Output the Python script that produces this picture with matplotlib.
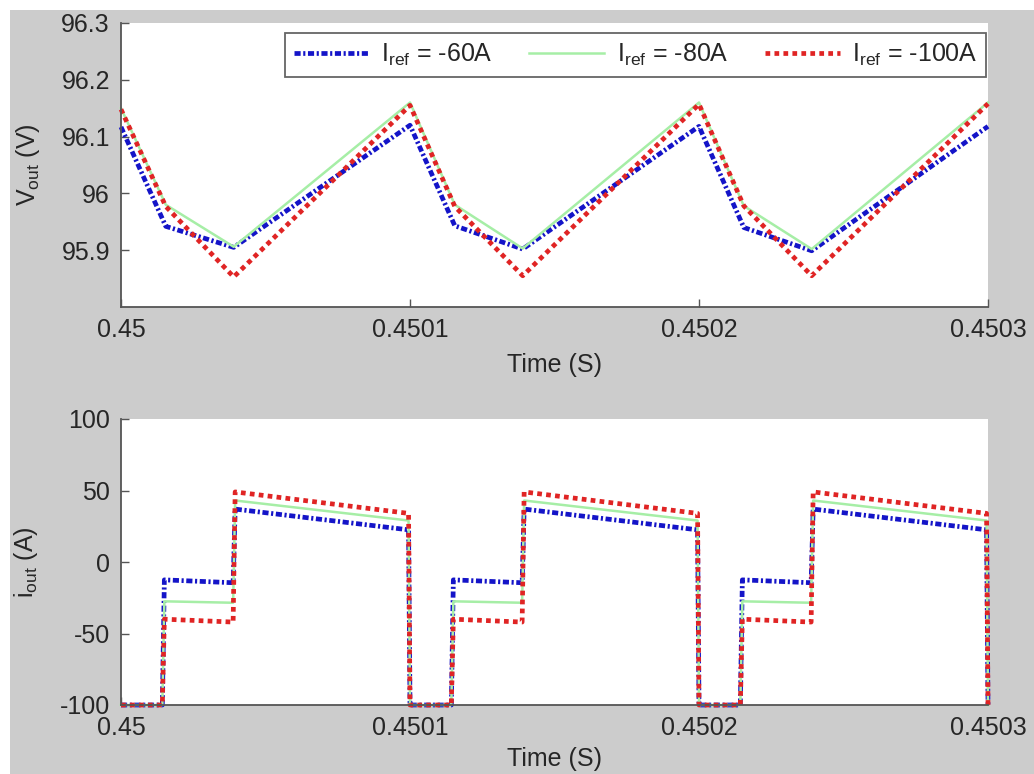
import matplotlib
matplotlib.use("Agg")
import matplotlib.pyplot as plt
from matplotlib.patches import Rectangle

plt.rcParams['font.family'] = ['Liberation Sans', 'DejaVu Sans']
plt.rcParams['mathtext.fontset'] = 'custom'
plt.rcParams['mathtext.rm'] = 'Liberation Sans'
plt.rcParams['mathtext.it'] = 'Liberation Sans:italic'

# ---- data -------------------------------------------------------------
series_labels = [r'I$_{\mathrm{ref}}$ = -60A', r'I$_{\mathrm{ref}}$ = -80A', r'I$_{\mathrm{ref}}$ = -100A']

# output voltage, corner points of the ripple waveform
t_v = [0.45, 0.4500155, 0.450039, 0.4501, 0.4501155, 0.450139,
       0.4502, 0.4502155, 0.450239, 0.4503]
v_60 = [96.117, 95.942, 95.905, 96.120, 95.943, 95.902, 96.118, 95.940, 95.899, 96.118]
v_80 = [96.150, 95.980, 95.906, 96.160, 95.980, 95.903, 96.160, 95.978, 95.902, 96.160]
v_100 = [96.148, 95.977, 95.853, 96.155, 95.977, 95.855, 96.157, 95.978, 95.855, 96.158]

# output current, corner points of the switching waveform
t_i = [0.45, 0.4500143, 0.4500150, 0.4500388, 0.4500395, 0.4500995, 0.4501000,
       0.4501143, 0.4501150, 0.4501388, 0.4501395, 0.4501995, 0.4502000,
       0.4502143, 0.4502150, 0.4502388, 0.4502395, 0.4502995, 0.4503000]
i_60 = [-100, -100, -12.5, -14.5, 37.0, 22.5, -100,
        -100, -12.5, -14.5, 37.0, 22.5, -100,
        -100, -12.5, -14.5, 37.0, 22.5, -100]
i_80 = [-100, -100, -27.5, -28.5, 43.0, 29.0, -100,
        -100, -27.5, -28.5, 43.0, 29.0, -100,
        -100, -27.5, -28.5, 43.0, 29.0, -100]
i_100 = [-100, -100, -40.0, -42.0, 49.0, 34.0, -100,
         -100, -40.0, -42.0, 49.0, 34.0, -100,
         -100, -40.0, -42.0, 49.0, 34.0, -100]

x_ticks = [0.45, 0.4501, 0.4502, 0.4503]
x_ticklabels = ['0.45', '0.4501', '0.4502', '0.4503']
v_ticks = [95.9, 96.0, 96.1, 96.2, 96.3]
v_ticklabels = ['95.9', '96', '96.1', '96.2', '96.3']
i_ticks = [-100, -50, 0, 50, 100]
i_ticklabels = ['-100', '-50', '0', '50', '100']

# ---- styling ----------------------------------------------------------
styles = [
    dict(color='#1414c8', lw=3.4, linestyle=(0, (1.3, 0.55, 0.45, 0.55))),
    dict(color='#a6eea6', lw=1.8, linestyle='-'),
    dict(color='#e02424', lw=3.4, linestyle=(0, (1.0, 0.9))),
]
FS = 18
TXT = '#262626'
SPINE = '#555555'
BG = '#cccccc'

W, H = 1034, 774
fig = plt.figure(figsize=(W / 100, H / 100), dpi=100, facecolor='white')
fig.patches.append(Rectangle((10 / W, 0), 1 - 10 / W, 1 - 10 / H,
                             transform=fig.transFigure, facecolor=BG,
                             edgecolor='none', zorder=-10))

ax1 = fig.add_axes([121 / W, 1 - 307 / H, 867 / W, 284 / H])
ax2 = fig.add_axes([121 / W, 1 - 705 / H, 867 / W, 286 / H])


def style_axes(ax):
    ax.set_facecolor('white')
    for side in ('top', 'right'):
        ax.spines[side].set_visible(False)
    for side in ('left', 'bottom'):
        ax.spines[side].set_color(SPINE)
        ax.spines[side].set_linewidth(1.3)
    ax.tick_params(direction='in', length=6, width=1.0, color=SPINE,
                   labelsize=FS, labelcolor=TXT, pad=8)
    ax.set_xlim(x_ticks[0], x_ticks[-1])
    ax.set_xticks(x_ticks)
    ax.set_xticklabels(x_ticklabels)
    ax.set_xlabel('Time (S)', fontsize=FS, color=TXT, labelpad=8)


style_axes(ax1)
lines = []
for v, st, lab in zip([v_60, v_80, v_100], styles, series_labels):
    ln, = ax1.plot(t_v, v, label=lab, clip_on=False, **st)
    lines.append(ln)
ax1.set_ylim(95.8, 96.3)
ax1.set_yticks(v_ticks)
ax1.set_yticklabels(v_ticklabels)
ax1.set_ylabel(r'V$_{\mathrm{out}}$ (V)', fontsize=FS, color=TXT, labelpad=14)

leg = ax1.legend(handles=lines, loc='upper right', bbox_to_anchor=(0.998, 0.965),
                 ncol=3, fontsize=FS, frameon=True, fancybox=False,
                 handlelength=3.0, handletextpad=0.5, columnspacing=1.45,
                 borderpad=0.35, borderaxespad=0.0)
leg.get_frame().set_edgecolor('#404040')
leg.get_frame().set_linewidth(1.3)
for t in leg.get_texts():
    t.set_color(TXT)

style_axes(ax2)
for cur, st in zip([i_60, i_80, i_100], styles):
    ax2.plot(t_i, cur, clip_on=False, **st)
ax2.set_ylim(-100, 100)
ax2.set_yticks(i_ticks)
ax2.set_yticklabels(i_ticklabels)
ax2.set_ylabel(r'i$_{\mathrm{out}}$ (A)', fontsize=FS, color=TXT, labelpad=14)
ax2.xaxis.labelpad = 5

fig.savefig('out.png', dpi=100, facecolor=fig.get_facecolor())
